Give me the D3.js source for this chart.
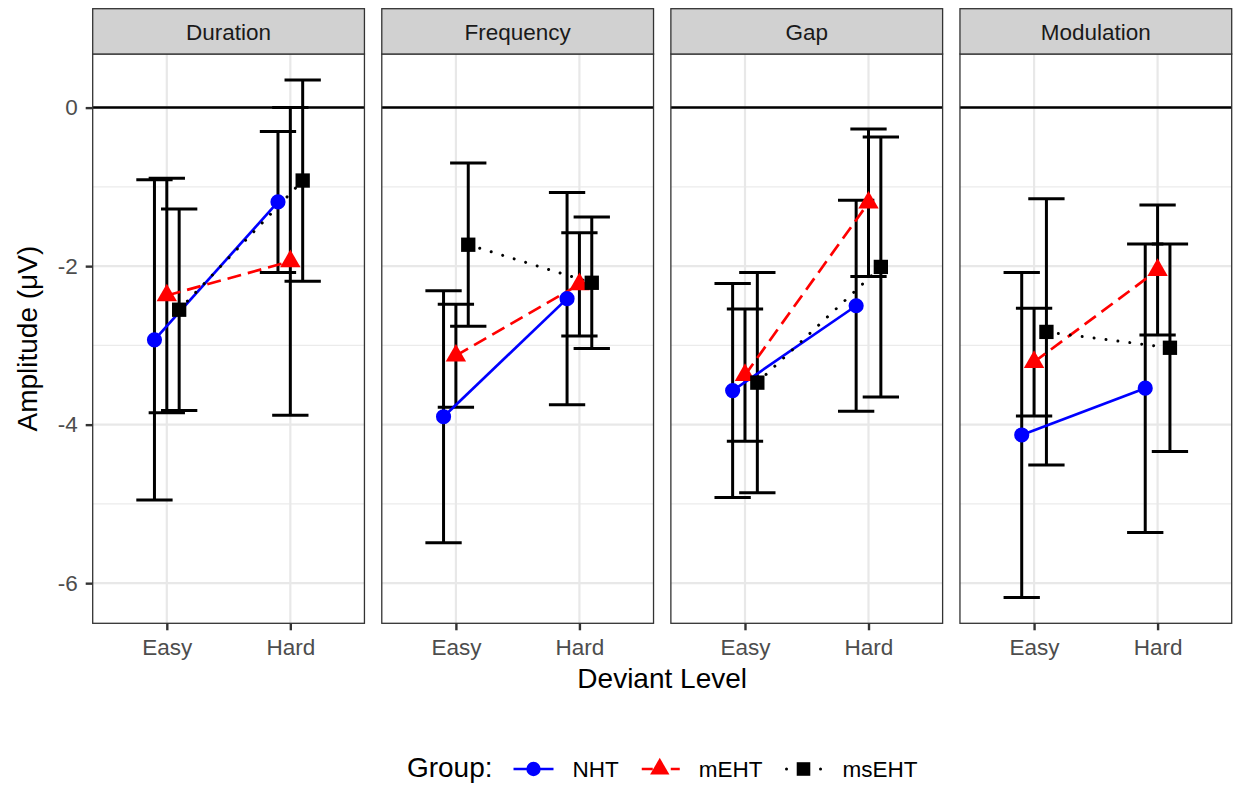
<!DOCTYPE html>
<html>
<head>
<meta charset="utf-8">
<script src="https://cdn.jsdelivr.net/npm/d3@7"></script>
<style>
  body { margin: 0; background: #fff; }
  svg { display: block; font-family: "Liberation Sans", Arial, Helvetica, sans-serif; }
</style>
</head>
<body>
<svg id="chart" width="1233" height="786"></svg>
<script>
// ---- data -------------------------------------------------------------
const facets = ["Duration", "Frequency", "Gap", "Modulation"];
const levels = ["Easy", "Hard"];
const groups = ["NHT", "mEHT", "msEHT"];
const yTickValues = [-6, -4, -2, 0];
const yTickLabels = ["-6", "-4", "-2", "0"];

// mean amplitude per facet, [Easy, Hard]
const nhtMean   = [[-2.93, -1.19], [-3.90, -2.41], [-3.57, -2.50], [-4.13, -3.54]];
const mehtMean  = [[-2.37, -1.94], [-3.13, -2.23], [-3.375, -1.20], [-3.21, -2.05]];
const msehtMean = [[-2.55, -0.92], [-1.73, -2.21], [-3.47, -2.01], [-2.83, -3.03]];

// error bar half-widths per facet, [Easy, Hard]
const nhtErr   = [[2.02, 0.89], [1.59, 1.34], [1.35, 1.33], [2.05, 1.82]];
const mehtErr  = [[1.48, 1.94], [0.65, 0.65], [0.835, 0.93], [0.68, 0.82]];
const msehtErr = [[1.27, 1.27], [1.03, 0.83], [1.39, 1.64], [1.68, 1.31]];

// ---- styles -----------------------------------------------------------
const groupColor = { NHT: "#0000ff", mEHT: "#ff0000", msEHT: "#000000" };
const groupDash  = { NHT: null, mEHT: "14,7", msEHT: "0.01,12" };
const groupCap   = { NHT: "butt", mEHT: "butt", msEHT: "round" };
const groupShape = { NHT: d3.symbolCircle, mEHT: d3.symbolTriangle, msEHT: d3.symbolSquare };
const groupSize  = { NHT: 180, mEHT: 180, msEHT: 205 };

const meansByGroup = { NHT: nhtMean, mEHT: mehtMean, msEHT: msehtMean };
const errsByGroup  = { NHT: nhtErr,  mEHT: mehtErr,  msEHT: msehtErr };

// tidy rows
const rows = [];
groups.forEach(g => {
  facets.forEach((f, fi) => {
    levels.forEach((l, li) => {
      const m = meansByGroup[g][fi][li], e = errsByGroup[g][fi][li];
      rows.push({ group: g, facet: f, level: l, mean: m, lo: m - e, hi: m + e });
    });
  });
});

// ---- layout & scales ----------------------------------------------------
const svg = d3.select("#chart");
const panelTop = 54, panelBottom = 623.3, stripTop = 8.7;

const fx = d3.scaleBand().domain(facets).range([92.7, 1231.7]).paddingInner(0.06).paddingOuter(0);
const pw = fx.bandwidth();
const x = d3.scalePoint().domain(levels).range([0, pw]).padding(0.6);
const dodge = d3.scalePoint().domain(groups).range([-0.1 * x.step(), 0.1 * x.step()]);
const capHalf = 0.147 * x.step();

const yLo = d3.min(rows, d => d.lo), yHi = Math.max(0, d3.max(rows, d => d.hi));
const yPad = (yHi - yLo) * 0.05;
const y = d3.scaleLinear().domain([yLo - yPad, yHi + yPad]).range([panelBottom, panelTop]);

const minorTicks = [-5, -3, -1];

facets.forEach((f, fi) => {
  const g = svg.append("g").attr("transform", `translate(${fx(f)},0)`);
  const data = rows.filter(r => r.facet === f);

  // panel background
  g.append("rect").attr("x", 0).attr("y", panelTop).attr("width", pw)
    .attr("height", panelBottom - panelTop).attr("fill", "#fff");

  // grid
  g.selectAll(".minor").data(minorTicks).join("line")
    .attr("x1", 0).attr("x2", pw).attr("y1", d => y(d)).attr("y2", d => y(d))
    .attr("stroke", "#ebebeb").attr("stroke-width", 1.1);
  g.selectAll(".major").data(yTickValues).join("line")
    .attr("x1", 0).attr("x2", pw).attr("y1", d => y(d)).attr("y2", d => y(d))
    .attr("stroke", "#e8e8e8").attr("stroke-width", 2.2);
  g.selectAll(".vgrid").data(levels).join("line")
    .attr("x1", d => x(d)).attr("x2", d => x(d)).attr("y1", panelTop).attr("y2", panelBottom)
    .attr("stroke", "#e8e8e8").attr("stroke-width", 2.2);

  // reference line at zero
  g.append("line").attr("x1", 0).attr("x2", pw).attr("y1", y(0)).attr("y2", y(0))
    .attr("stroke", "#000").attr("stroke-width", 2.5);

  // error bars
  const eb = g.selectAll(".eb").data(data).join("g")
    .attr("transform", d => `translate(${x(d.level) + dodge(d.group)},0)`)
    .attr("stroke", "#000").attr("stroke-width", 3);
  eb.append("line").attr("x1", 0).attr("x2", 0).attr("y1", d => y(d.hi)).attr("y2", d => y(d.lo));
  eb.append("line").attr("x1", -capHalf).attr("x2", capHalf).attr("y1", d => y(d.hi)).attr("y2", d => y(d.hi));
  eb.append("line").attr("x1", -capHalf).attr("x2", capHalf).attr("y1", d => y(d.lo)).attr("y2", d => y(d.lo));

  // connecting lines
  const line = d3.line().x(d => x(d.level) + dodge(d.group)).y(d => y(d.mean));
  groups.forEach(gr => {
    g.append("path").datum(data.filter(d => d.group === gr))
      .attr("d", line).attr("fill", "none")
      .attr("stroke", groupColor[gr]).attr("stroke-width", gr === "msEHT" ? 3 : 2.7)
      .attr("stroke-dasharray", groupDash[gr])
      .attr("stroke-linecap", groupCap[gr]);
  });

  // points
  g.selectAll(".pt").data(data).join("path")
    .attr("transform", d => `translate(${x(d.level) + dodge(d.group)},${y(d.mean)})`)
    .attr("d", d => d3.symbol(groupShape[d.group], groupSize[d.group])())
    .attr("fill", d => groupColor[d.group]);

  // panel border
  g.append("rect").attr("x", 0).attr("y", panelTop).attr("width", pw)
    .attr("height", panelBottom - panelTop).attr("fill", "none")
    .attr("stroke", "#333").attr("stroke-width", 1.3);

  // strip
  g.append("rect").attr("x", 0).attr("y", stripTop).attr("width", pw)
    .attr("height", panelTop - stripTop).attr("fill", "#d1d1d1")
    .attr("stroke", "#333").attr("stroke-width", 1.3);
  g.append("text").attr("x", pw / 2).attr("y", 40).attr("text-anchor", "middle")
    .attr("font-size", 22.5).attr("fill", "#1a1a1a").text(f);

  // x axis
  const xa = g.append("g").attr("transform", `translate(0,${panelBottom})`)
    .call(d3.axisBottom(x).tickSize(7).tickPadding(8.5));
  xa.select(".domain").remove();
  xa.selectAll(".tick line").attr("stroke", "#333").attr("stroke-width", 2.4);
  xa.selectAll(".tick text").attr("fill", "#4d4d4d").attr("font-size", 22.5)
    .attr("font-family", "Liberation Sans, Arial, sans-serif");

  // y axis on the first panel only
  if (fi === 0) {
    const ya = g.append("g")
      .call(d3.axisLeft(y).tickValues(yTickValues)
        .tickFormat((d, i) => yTickLabels[i]).tickSize(7).tickPadding(8));
    ya.select(".domain").remove();
    ya.selectAll(".tick line").attr("stroke", "#333").attr("stroke-width", 2.4);
    ya.selectAll(".tick text").attr("fill", "#4d4d4d").attr("font-size", 22.5)
      .attr("font-family", "Liberation Sans, Arial, sans-serif");
  }
});

// axis titles
const plotMid = (fx.range()[0] + fx.range()[1]) / 2;
svg.append("text").attr("x", plotMid).attr("y", 688).attr("text-anchor", "middle")
  .attr("font-size", 28).attr("fill", "#000").text("Deviant Level");
svg.append("text")
  .attr("transform", `translate(37,${(panelTop + panelBottom) / 2}) rotate(-90)`)
  .attr("text-anchor", "middle").attr("font-size", 28).attr("fill", "#000")
  .text("Amplitude (\u03BCV)");

// ---- legend -------------------------------------------------------------
const legend = svg.append("g");
const legendBaseline = 777;
const keyW = 40;
const keyDash = { NHT: null, mEHT: "11,18", msEHT: "0.01,34" };
const keyOffset = { NHT: 0, mEHT: -2, msEHT: -3 };
let cx = 0;
const title = legend.append("text").attr("x", cx).attr("y", legendBaseline)
  .attr("font-size", 28).attr("fill", "#000").text("Group:");
cx += title.node().getComputedTextLength() + 21;
groups.forEach((gr, i) => {
  const k = legend.append("g").attr("transform", `translate(${cx},${legendBaseline - 8})`);
  k.append("line").attr("x1", 0).attr("x2", keyW).attr("y1", 0).attr("y2", 0)
    .attr("stroke", groupColor[gr]).attr("stroke-width", gr === "msEHT" ? 3 : 2.7)
    .attr("stroke-dasharray", keyDash[gr])
    .attr("stroke-dashoffset", keyOffset[gr])
    .attr("stroke-linecap", groupCap[gr]);
  k.append("path").attr("transform", `translate(${keyW / 2},0)`)
    .attr("d", d3.symbol(groupShape[gr], groupSize[gr] * 0.9)())
    .attr("fill", groupColor[gr]);
  cx += keyW + 19;
  const t = legend.append("text").attr("x", cx).attr("y", legendBaseline)
    .attr("font-size", 22.5).attr("fill", "#000").text(gr);
  cx += t.node().getComputedTextLength() + (i < groups.length - 1 ? 21 : 0);
});
legend.attr("transform", `translate(${plotMid - cx / 2},0)`);
</script>
</body>
</html>
